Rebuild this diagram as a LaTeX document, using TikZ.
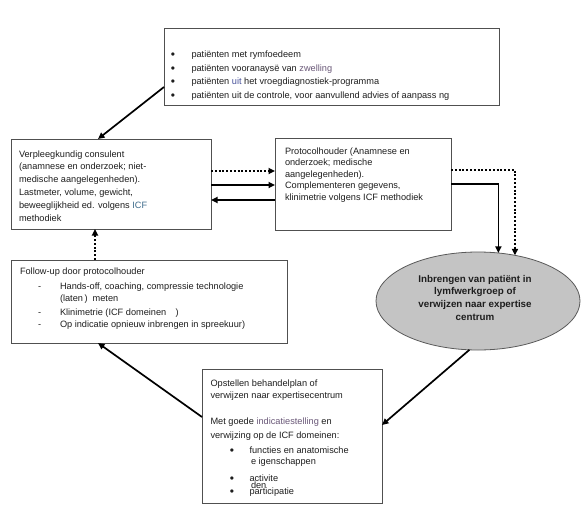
\documentclass[tikz,border=0pt]{standalone}
\usepackage{fontspec}
\setmainfont{Liberation Sans}
\usetikzlibrary{arrows.meta,shapes.geometric,calc}
\definecolor{boxgray}{HTML}{505050}
\definecolor{txtcol}{HTML}{1E1E1E}
\definecolor{elfill}{HTML}{C4C4C4}
\definecolor{elgray}{HTML}{5A5A5A}
\definecolor{purp}{HTML}{6A5878}
\definecolor{blu}{HTML}{46509A}
\definecolor{icfblue}{HTML}{3F6C8C}
\newcommand\fsz{\fontsize{9.2}{10}\selectfont}
\newcommand\bsz{\fontsize{9.8}{10}\selectfont\bfseries}
\newcommand\bul{{\fontsize{12}{10}\selectfont •}}
\begin{document}
\begin{tikzpicture}[x=1pt,y=-1pt,
  box/.style={draw=boxgray,line width=0.8pt,rectangle,inner sep=0pt,outer sep=0pt},
  txt/.style={anchor=base west,inner sep=0pt,outer sep=0pt,font=\fsz,text=txtcol},
  btxt/.style={anchor=base,inner sep=0pt,outer sep=0pt,font=\fsz,text=txtcol},
  ctxt/.style={anchor=base,inner sep=0pt,outer sep=0pt,font=\bsz,text=txtcol},
  conn/.style={line width=1.7pt,-{Triangle[length=6.5pt,width=6pt]}},
  dotc/.style={conn,dash pattern=on 2pt off 1.8pt}]
\useasboundingbox (0,0) rectangle (586,514);
\fill[white] (0,0) rectangle (586,514);
% boxes
\node[box,minimum width=335pt,minimum height=77pt] (top) at (331.5,66.5) {};
\node[box,minimum width=200pt,minimum height=90pt] (vc) at (111,184) {};
\node[box,minimum width=176pt,minimum height=92pt] (ph) at (363,184) {};
\node[box,minimum width=276pt,minimum height=83pt] (fu) at (149,301.5) {};
\node[box,minimum width=180pt,minimum height=134pt] (bp) at (292,436) {};
\node[draw=elgray,fill=elfill,ellipse,line width=0.8pt,minimum width=204pt,minimum height=98pt,inner sep=0pt,outer sep=0pt] (el) at (478,301) {};
% top box text
\foreach \t [count=\i] in {{patiënten met rymfoedeem},{patiënten vooranaysë van \textcolor{purp}{zwelling}},{patiënten \textcolor{blu}{uit} het vroegdiagnostiek-programma},{patiënten uit de controle, voor aanvullend advies of aanpass ng}}{
  \node[txt] (tb\i) at (191.5,{57.5+13.5*(\i-1)}) {\t};
  \node[btxt] (tbb\i) at (173,{58.5+13.5*(\i-1)}) {\bul};
}
% left box text
\foreach \t [count=\i] in {{Verpleegkundig consulent},{(anamnese en onderzoek; niet-},{medische aangelegenheden).},{Lastmeter, volume, gewicht,},{beweeglijkheid ed. volgens \textcolor{icfblue}{ICF}},{methodiek}}{
  \node[txt] (vt\i) at (19,{157+12.9*(\i-1)}) {\t};
}
% right box text
\foreach \t [count=\i] in {{Protocolhouder (Anamnese en},{onderzoek; medische},{aangelegenheden).},{Complementeren gegevens,},{klinimetrie volgens ICF methodiek}}{
  \node[txt] (pt\i) at (285,{154.5+11.4*(\i-1)}) {\t};
}
% follow-up text
\node[txt] (ft0) at (20,274) {Follow-up door protocolhouder};
\node[txt] (ft1) at (60,289.7) {Hands-off, coaching, compressie technologie};
\node[txt] (ft2) at (60,301.3) {(laten\,)\; meten};
\node[txt] (ft3) at (60,315.7) {Klinimetrie (ICF domeinen\quad)};
\node[txt] (ft4) at (60,327.3) {Op indicatie opnieuw inbrengen in spreekuur)};
\node[txt] (fd1) at (38,289.7) {-};
\node[txt] (fd3) at (38,315.7) {-};
\node[txt] (fd4) at (38,327.3) {-};
% ellipse text
\node[ctxt] (et1) at (475,282) {Inbrengen van patiënt in};
\node[ctxt] (et2) at (475,294.7) {lymfwerkgroep of};
\node[ctxt] (et3) at (475,307.2) {verwijzen naar expertise};
\node[ctxt] (et4) at (475,320) {centrum};
% bottom box text
\node[txt] (bt1) at (210.5,386) {Opstellen behandelplan of};
\node[txt] (bt2) at (210.5,398) {verwijzen naar expertisecentrum};
\node[txt] (bt3) at (210.5,424.7) {Met goede \textcolor{purp}{indicatiestelling} en};
\node[txt] (bt4) at (210.5,438) {verwijzing op de ICF domeinen:};
\node[txt] (bt5) at (249.5,453) {functies en anatomische};
\node[txt] (bt6) at (251,464.7) {e igenschappen};
\node[txt] (bt7) at (249.5,481.3) {activite};
\node[txt] (bt8) at (251,488) {den};
\node[txt] (bt9) at (249.5,494.5) {participatie};
\node[btxt] (bb5) at (232,454) {\bul};
\node[btxt] (bb7) at (232,482.3) {\bul};
\node[btxt] (bb9) at (232,495) {\bul};
% connectors
\draw[conn] (top.west |- 0,87) -- (98,0 |- vc.north);
\draw[dotc] (vc.east |- 0,171) -- (ph.west |- 0,171);
\draw[conn] (vc.east |- 0,185) -- (ph.west |- 0,185);
\draw[conn] (ph.west |- 0,200) -- (vc.east |- 0,200);
\draw[dotc] (ph.east |- 0,170) -| (el.51.8);
\draw[conn] (ph.east |- 0,184) -| (el.67.4);
\draw[conn] (el.260.5) -- (bp.east |- 0,425);
\draw[conn] (bp.west |- 0,417) -- (98,0 |- fu.south);
\draw[dotc] (95,0 |- fu.north) -- (95,0 |- vc.south);
\end{tikzpicture}
\end{document}
